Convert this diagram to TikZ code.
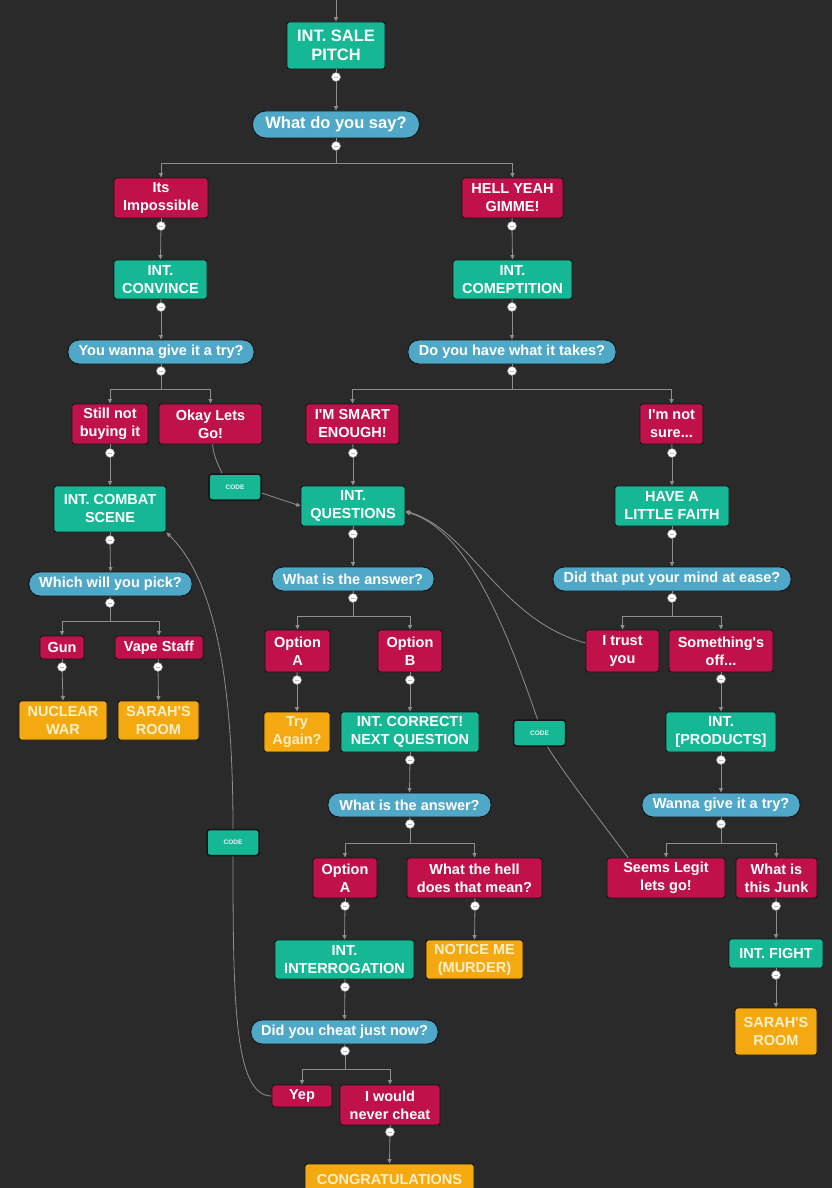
\documentclass[tikz,border=0pt]{standalone}
\usepackage{fontspec}
\setmainfont{Liberation Sans}[Ligatures=TeXOff]
\usetikzlibrary{arrows.meta}
\definecolor{bgc}{HTML}{2A2A2A}
\definecolor{tealc}{HTML}{15B795}
\definecolor{redc}{HTML}{C0114A}
\definecolor{bluec}{HTML}{4FA8C7}
\definecolor{orac}{HTML}{F4A911}
\definecolor{linec}{HTML}{8E8E8E}
\definecolor{edgec}{HTML}{141414}
\definecolor{creamc}{HTML}{FDF0C8}
\definecolor{dotmark}{HTML}{B8B8B8}
\begin{document}
\begin{tikzpicture}[x=1pt,y=-1pt,
 box/.style={draw=edgec, line width=0.9pt, rounded corners=2.5pt, text=white, align=center, inner sep=0pt, font=\bfseries\fontsize{14.5}{18}\selectfont},
 wh/.style n args={2}{minimum width=#1pt, minimum height=#2pt},
 tnode/.style={box, fill=tealc},
 rnode/.style={box, fill=redc},
 onode/.style={box, fill=orac, text=creamc},
 pill/.style={box, fill=bluec, rounded corners=11pt},
 big/.style={font=\bfseries\fontsize{16.5}{19}\selectfont},
 codebox/.style={box, fill=tealc, rounded corners=3pt, font=\bfseries\fontsize{6.5}{8}\selectfont, minimum width=52pt, minimum height=26pt, line width=1.5pt, text=white!90!tealc},
 dot/.style={circle, draw=linec, fill=white, line width=0.6pt, inner sep=0pt, minimum size=9pt,
   path picture={\draw[dotmark, line width=0.5pt] ([xshift=-2pt]path picture bounding box.center) -- ([xshift=2pt]path picture bounding box.center);}},
 conn/.style={draw=linec, line width=0.8pt},
 arr/.style={conn, -{Triangle[length=4.5pt,width=4pt]}},
]
\fill[bgc] (0,0) rectangle (832,1188);
\useasboundingbox (0,0) rectangle (832,1188);
\clip (0,0) rectangle (832,1188);

% ---------- nodes ----------
\node[tnode, big, wh={98}{47}] (sale) at (336,45.5) {INT. SALE\\PITCH};
\node[pill, big, wh={167}{27}, rounded corners=13pt] (ask) at (336,124.5) {What do you say?};
\node[rnode, wh={94}{40}] (imp) at (161,198) {Its\\Impossible};
\node[rnode, wh={101}{40}] (hell) at (512.5,198) {HELL YEAH\\GIMME!};
\node[tnode, wh={93}{39}] (conv) at (160.5,279.5) {INT.\\CONVINCE};
\node[tnode, wh={119}{39}] (comp) at (512.5,279.5) {INT.\\COMEPTITION};
\node[pill, wh={186}{24}] (try1) at (161,352) {You wanna give it a try?};
\node[pill, wh={208}{24}] (takes) at (512,352) {Do you have what it takes?};
\node[rnode, wh={76}{40}] (still) at (110,424) {Still not\\buying it};
\node[rnode, wh={103}{40}] (okay) at (210.5,424) {Okay Lets\\Go!};
\node[rnode, wh={93}{40}] (smart) at (352.5,424) {I'M SMART\\ENOUGH!};
\node[rnode, wh={63}{40}] (notsure) at (671.5,424) {I'm not\\sure...};
\node[codebox] (code1) at (235,487) {CODE};
\node[tnode, wh={112}{46}] (combat) at (110,509) {INT. COMBAT\\SCENE};
\node[tnode, wh={104}{40}] (quest) at (353,506) {INT.\\QUESTIONS};
\node[tnode, wh={114}{40}] (faith) at (672,506) {HAVE A\\LITTLE FAITH};
\node[pill, wh={163}{24}] (pick) at (110.5,584) {Which will you pick?};
\node[pill, wh={162}{24}] (ans1) at (353,579) {What is the answer?};
\node[pill, wh={238}{24}] (ease) at (672,579) {Did that put your mind at ease?};
\node[rnode, wh={44}{23}] (gun) at (62,647.5) {Gun};
\node[rnode, wh={88}{23}] (vape) at (159,647.5) {Vape Staff};
\node[rnode, wh={65}{42}] (optA1) at (297.5,651) {Option\\A};
\node[rnode, wh={64}{42}] (optB) at (410,651) {Option\\B};
\node[rnode, wh={73}{42}] (trust) at (622.5,651) {I trust\\you};
\node[rnode, wh={104}{42}] (off) at (721,651) {Something's\\off...};
\node[onode, wh={88}{39}] (nuke) at (63,720.5) {NUCLEAR\\WAR};
\node[onode, wh={81}{39}] (sarah1) at (158.5,720.5) {SARAH'S\\ROOM};
\node[onode, wh={66}{40}] (again) at (297,732) {Try\\Again?};
\node[tnode, wh={138}{40}] (correct) at (410,732) {INT. CORRECT!\\NEXT QUESTION};
\node[tnode, wh={110}{40}] (products) at (721,732) {INT.\\{[PRODUCTS]}};
\node[codebox] (code2) at (539.5,733) {CODE};
\node[pill, wh={163}{24}] (ans2) at (409.5,805) {What is the answer?};
\node[pill, wh={158}{24}] (wanna) at (721,805) {Wanna give it a try?};
\node[codebox] (code3) at (233,842.5) {CODE};
\node[rnode, wh={64}{40}] (optA2) at (345,878) {Option\\A};
\node[rnode, wh={135}{40}] (hellq) at (474.5,878) {What the hell\\does that mean?};
\node[rnode, wh={118}{40}] (legit) at (666,878) {Seems Legit\\lets go!};
\node[rnode, wh={81}{40}] (junk) at (776.5,878) {What is\\this Junk};
\node[tnode, wh={139}{39}] (interr) at (344.5,959.5) {INT.\\INTERROGATION};
\node[onode, wh={97}{39}] (murder) at (474.5,959.5) {NOTICE ME\\(MURDER)};
\node[tnode, wh={94}{29}] (fight) at (776,953.5) {INT. FIGHT};
\node[pill, wh={187}{24}] (cheat) at (344.5,1032) {Did you cheat just now?};
\node[onode, wh={82}{47}] (sarah2) at (776,1031.5) {SARAH'S\\ROOM};
\node[rnode, wh={60}{22}] (yep) at (302,1096) {Yep};
\node[rnode, wh={100}{40}] (never) at (390,1105) {I would\\never cheat};
\node[onode, wh={169}{30}] (congr) at (389.5,1179) {CONGRATULATIONS};

% ---------- dots ----------
\node[dot] (d0) at (336,77) {};
\node[dot] (d1) at (336,146) {};
\node[dot] (d2) at (161,226) {};
\node[dot] (d3) at (512,226) {};
\node[dot] (d4) at (161,307) {};
\node[dot] (d5) at (512,307) {};
\node[dot] (d6) at (161,371) {};
\node[dot] (d7) at (512,371) {};
\node[dot] (d8) at (110,453) {};
\node[dot] (d9) at (353,453) {};
\node[dot] (d10) at (672,453) {};
\node[dot] (d11) at (110,540) {};
\node[dot] (d12) at (353,534) {};
\node[dot] (d13) at (672,534) {};
\node[dot] (d14) at (110,603) {};
\node[dot] (d15) at (353,598) {};
\node[dot] (d16) at (672,598) {};
\node[dot] (d17) at (62,667) {};
\node[dot] (d18) at (158,667) {};
\node[dot] (d19) at (297,680) {};
\node[dot] (d20) at (410,680) {};
\node[dot] (d21) at (721,679) {};
\node[dot] (d22) at (410,760) {};
\node[dot] (d23) at (721,760) {};
\node[dot] (d24) at (410,824) {};
\node[dot] (d25) at (721,824) {};
\node[dot] (d26) at (345,906) {};
\node[dot] (d27) at (475,906) {};
\node[dot] (d28) at (776,906) {};
\node[dot] (d29) at (345,987) {};
\node[dot] (d30) at (776,975) {};
\node[dot] (d31) at (345,1051) {};
\node[dot] (d32) at (390,1132) {};

% ---------- branch points ----------
\coordinate (top) at (336,0);
\coordinate (b1) at (336,163);
\coordinate (b6) at (161,389);
\coordinate (b7) at (512,389);
\coordinate (b14) at (110,621);
\coordinate (b15) at (353,616);
\coordinate (b16) at (672,616);
\coordinate (b24) at (410,843);
\coordinate (b25) at (721,843);
\coordinate (b31) at (345,1069);

% ---------- connectors ----------
\draw[arr] (top) -- (sale.north);
\draw[conn] (sale) -- (d0);  \draw[arr] (d0) -- (ask.north);
\draw[conn] (ask) -- (d1);   \draw[conn] (d1) -- (b1);
\draw[arr] (b1) -| (imp.north);  \draw[arr] (b1) -| (hell.north);
\draw[conn] (imp) -- (d2);   \draw[arr] (d2) -- (conv.north);
\draw[conn] (hell) -- (d3);  \draw[arr] (d3) -- (comp.north);
\draw[conn] (conv) -- (d4);  \draw[arr] (d4) -- (try1.north);
\draw[conn] (comp) -- (d5);  \draw[arr] (d5) -- (takes.north);
\draw[conn] (try1) -- (d6);  \draw[conn] (d6) -- (b6);
\draw[arr] (b6) -| (still.north); \draw[arr] (b6) -| (okay.north);
\draw[conn] (takes) -- (d7); \draw[conn] (d7) -- (b7);
\draw[arr] (b7) -| (smart.north); \draw[arr] (b7) -| (notsure.north);
\draw[conn] (still) -- (d8); \draw[arr] (d8) -- (combat.north);
\draw[conn] (smart) -- (d9); \draw[arr] (d9) -- (quest.north);
\draw[conn] (notsure) -- (d10); \draw[arr] (d10) -- (faith.north);
\draw[conn] ([xshift=2pt]okay.south) .. controls (214,458) and (219,466) .. ([xshift=-13pt]code1.north);
\draw[arr] ([yshift=-6pt]code1.east) -- (quest.west);
\draw[conn] (combat) -- (d11); \draw[arr] (d11) -- (pick.north);
\draw[conn] (quest) -- (d12);  \draw[arr] (d12) -- (ans1.north);
\draw[conn] (faith) -- (d13);  \draw[arr] (d13) -- (ease.north);
\draw[conn] (pick) -- (d14); \draw[conn] (d14) -- (b14);
\draw[arr] (b14) -| (gun.north); \draw[arr] (b14) -| (vape.north);
\draw[conn] (ans1) -- (d15); \draw[conn] (d15) -- (b15);
\draw[arr] (b15) -| (optA1.north); \draw[arr] (b15) -| (optB.north);
\draw[conn] (ease) -- (d16); \draw[conn] (d16) -- (b16);
\draw[arr] (b16) -| (trust.north); \draw[arr] (b16) -| (off.north);
\draw[conn] (gun) -- (d17);  \draw[arr] (d17) -- (nuke.north);
\draw[conn] (vape) -- (d18); \draw[arr] (d18) -- (sarah1.north);
\draw[conn] (optA1) -- (d19); \draw[arr] (d19) -- (again.north);
\draw[conn] (optB) -- (d20);  \draw[arr] (d20) -- (correct.north);
\draw[conn] (off) -- (d21);   \draw[arr] (d21) -- (products.north);
\draw[arr] ([yshift=8pt]trust.west) .. controls (500,620) and (470,530) .. ([yshift=-5pt]quest.east);
\draw[conn] (correct) -- (d22); \draw[arr] (d22) -- (ans2.north);
\draw[conn] (products) -- (d23); \draw[arr] (d23) -- (wanna.north);
\draw[conn] (ans2) -- (d24); \draw[conn] (d24) -- (b24);
\draw[arr] (b24) -| (optA2.north); \draw[arr] (b24) -| (hellq.north);
\draw[conn] (wanna) -- (d25); \draw[conn] (d25) -- (b25);
\draw[arr] (b25) -| (legit.north); \draw[arr] (b25) -| (junk.north);
\draw[conn] ([xshift=-38pt]legit.north) .. controls (600,820) and (565,775) .. ([xshift=8pt]code2.south);
\draw[arr] ([xshift=-2pt]code2.north) .. controls (510,640) and (470,530) .. ([yshift=-6pt]quest.east);
\draw[conn] (optA2) -- (d26); \draw[arr] (d26) -- (interr.north);
\draw[conn] (hellq) -- (d27); \draw[arr] (d27) -- (murder.north);
\draw[conn] (junk) -- (d28);  \draw[arr] (d28) -- (fight.north);
\draw[conn] (interr) -- (d29); \draw[arr] (d29) -- (cheat.north);
\draw[conn] (fight) -- (d30);  \draw[arr] (d30) -- (sarah2.north);
\draw[conn] (cheat) -- (d31); \draw[conn] (d31) -- (b31);
\draw[arr] (b31) -| (yep.north); \draw[arr] (b31) -| (never.north);
\draw[conn] (never) -- (d32); \draw[arr] (d32) -- (congr.north);
\draw[conn] (yep.west) .. controls (234,1096) and (233,1000) .. (code3.south);
\draw[arr] (code3.north) .. controls (233,680) and (215,580) .. (combat.south east);
\end{tikzpicture}
\end{document}
